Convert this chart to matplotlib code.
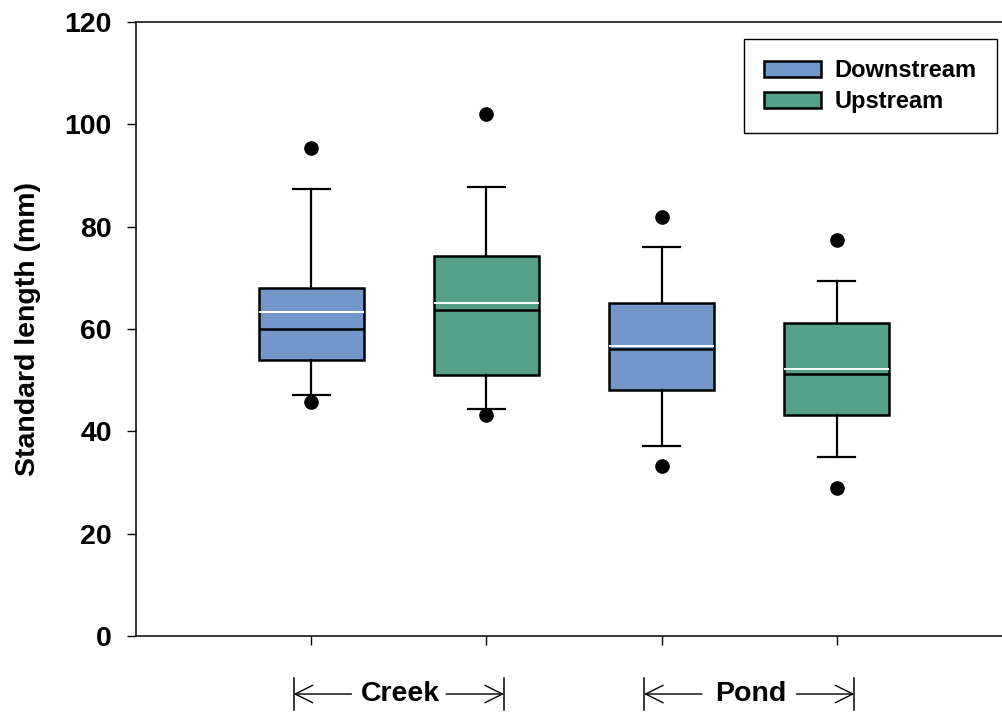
import numpy as np
import matplotlib
matplotlib.use("Agg")
import matplotlib.pyplot as plt
from matplotlib.patches import Patch
import matplotlib.transforms as mtransforms

### donnees ###

groupes = ["Creek", "Pond"]
series = ["Downstream", "Upstream"]
couleurs = ["#7397C9", "#55A088"]

# ordre : Creek-Downstream, Creek-Upstream, Pond-Downstream, Pond-Upstream
q1 = [54.0, 51.0, 48.0, 43.2]
mediane = [60.0, 63.7, 56.0, 51.2]
moyenne = [63.4, 65.1, 56.7, 52.1]
q3 = [68.1, 74.3, 65.1, 61.1]
moust_bas = [47.1, 44.4, 37.2, 34.9]
moust_haut = [87.4, 87.7, 76.0, 69.4]
points_hors = [[45.8, 95.4], [43.2, 102.0], [33.2, 81.9], [28.9, 77.4]]

positions = [1, 2, 3, 4]

plt.rcParams['font.family'] = ['Liberation Sans', 'DejaVu Sans']
plt.rcParams['font.weight'] = 'bold'

fig = plt.figure(figsize=(10.03, 7.13), dpi=100)
# l'axe depasse a droite de la figure (pas de bord droit visible)
ax = fig.add_axes([136/1003, 77/713, 876/1003, 614/713])

### construction des statistiques pour bxp ###

stats = []
for i in range(len(positions)):
	stats.append(dict(med=mediane[i], q1=q1[i], q3=q3[i], whislo=moust_bas[i],
		whishi=moust_haut[i], mean=moyenne[i], fliers=points_hors[i]))

bp = ax.bxp(stats, positions=positions, widths=0.6, patch_artist=True,
	showmeans=True, meanline=True, showfliers=True, capwidths=0.21,
	boxprops=dict(edgecolor='black', linewidth=1.8),
	medianprops=dict(color='black', linewidth=1.8),
	meanprops=dict(color='white', linestyle='-', linewidth=1.4),
	whiskerprops=dict(color='black', linewidth=1.6),
	capprops=dict(color='black', linewidth=1.6),
	flierprops=dict(marker='o', markerfacecolor='black', markeredgecolor='black',
		markersize=9.5, zorder=5))

for k, boite in enumerate(bp['boxes']):
	boite.set_facecolor(couleurs[k % 2])

### axes ###

ax.set_xlim(0, 5)
ax.set_ylim(0, 120)
ax.set_yticks(np.arange(0, 121, 20))
ax.set_xticks(positions)
ax.set_xticklabels([])
ax.tick_params(axis='y', direction='out', length=6.5, width=1, labelsize=20.5, pad=11)
ax.tick_params(axis='x', direction='out', length=6.5, width=1)
for cote in ['left', 'top', 'bottom']:
	ax.spines[cote].set_linewidth(1.1)
ax.set_ylabel("Standard length (mm)", fontsize=20.5, fontweight='bold')
ax.yaxis.set_label_coords(-0.108, 0.5)

### crochets sous l'axe x pour les groupes ###

trans = mtransforms.blended_transform_factory(ax.transData, ax.transAxes)
y_fleche = -0.0945
style_fleche = '->, head_length=0.7, head_width=0.35'
for g, nom in enumerate(groupes):
	centre = (positions[2*g] + positions[2*g+1]) / 2
	gauche = centre - 0.6
	droite = centre + 0.6
	for xb in [gauche, droite]:
		ax.plot([xb, xb], [-0.068, -0.121], color='black', linewidth=1.1,
			transform=trans, clip_on=False)
	ax.annotate('', xy=(gauche, y_fleche), xytext=(centre - 0.27, y_fleche),
		xycoords=trans, textcoords=trans, annotation_clip=False,
		arrowprops=dict(arrowstyle=style_fleche, color='black', linewidth=1,
			shrinkA=0, shrinkB=0, mutation_scale=18))
	ax.annotate('', xy=(droite, y_fleche), xytext=(centre + 0.27, y_fleche),
		xycoords=trans, textcoords=trans, annotation_clip=False,
		arrowprops=dict(arrowstyle=style_fleche, color='black', linewidth=1,
			shrinkA=0, shrinkB=0, mutation_scale=18))
	ax.text(centre + 0.01, y_fleche, nom, transform=trans, ha='center', va='center',
		fontsize=20.5, fontweight='bold')

### legende ###

poignees = [Patch(facecolor=couleurs[s], edgecolor='black', linewidth=1.8, label=series[s])
	for s in range(len(series))]
leg = ax.legend(handles=poignees, loc='upper right',
	bbox_to_anchor=(997/1003, 1 - 39/713), bbox_transform=fig.transFigure,
	borderaxespad=0, fancybox=False, framealpha=1, edgecolor='black',
	prop=dict(size=17, weight='bold'), handlelength=2.4, handleheight=0.7,
	handletextpad=0.6, labelspacing=0.35, borderpad=0.85)
leg.get_frame().set_linewidth(1)

plt.savefig("out.png", dpi=100)
